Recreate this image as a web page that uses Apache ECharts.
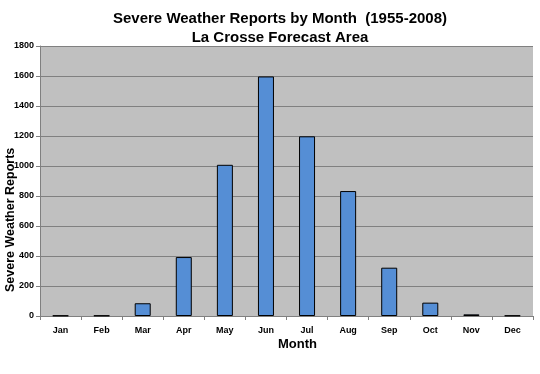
<!DOCTYPE html>
<html><head><meta charset="utf-8">
<script src="https://cdn.jsdelivr.net/npm/echarts@6/dist/echarts.min.js"></script>
<style>html,body{margin:0;padding:0;background:#fff}#c{width:540px;height:374px}</style>
</head><body><div id="c"></div>
<script>
const months = ['Jan','Feb','Mar','Apr','May','Jun','Jul','Aug','Sep','Oct','Nov','Dec'];
const reports = [3, 3, 85, 393, 1008, 1597, 1198, 833, 322, 89, 11, 3];
const titleLines = ['Severe Weather Reports by Month  (1955-2008)', 'La Crosse Forecast Area'];
const yTicks = [0, 200, 400, 600, 800, 1000, 1200, 1400, 1600, 1800];
const xName = 'Month';
const yName = 'Severe Weather Reports';

const chart = echarts.init(document.getElementById('c'), null, {renderer:'canvas'});
const font = 'Liberation Sans, Arial, sans-serif';
chart.setOption({
  animation: false,
  title: {
    text: titleLines.join('\n'),
    left: 275, top: 4, textAlign: 'center',
    textStyle: {fontFamily: font, fontSize: 15, fontWeight: 'bold', color: '#000', lineHeight: 19}
  },
  graphic: [
    {type: 'text', left: 278, top: 338, style: {text: xName, font: 'bold 13px ' + font, fill: '#000'}},
    {type: 'text', x: 4, y: 292, rotation: Math.PI / 2,
      style: {text: yName, font: 'bold 12.5px ' + font, fill: '#000', align: 'left', verticalAlign: 'top'}}
  ],
  grid: {left: 40, right: 7, top: 46, bottom: 58, show: true, backgroundColor: '#C0C0C0', borderWidth: 0,
    outerBoundsMode: 'none', containLabel: false},
  xAxis: {
    type: 'category', data: months,
    axisLine: {show: true, lineStyle: {color: '#808080', width: 1}},
    axisTick: {show: true, alignWithLabel: false, length: 4, lineStyle: {color: '#808080'}},
    axisLabel: {fontFamily: font, fontSize: 9, fontWeight: 'bold', color: '#000', margin: 10}
  },
  yAxis: {
    type: 'value', min: 0, max: 1800, interval: 200,
    axisLine: {show: true, lineStyle: {color: '#808080', width: 1}},
    axisTick: {show: true, length: 4, lineStyle: {color: '#808080'}},
    axisLabel: {fontFamily: font, fontSize: 9, fontWeight: 'bold', color: '#000', margin: 6,
      formatter: v => yTicks.includes(v) ? String(v) : ''},
    splitLine: {show: true, lineStyle: {color: '#808080', width: 1}}
  },
  series: [{
    type: 'bar', data: reports, barWidth: 16,
    itemStyle: {color: '#558ED5', borderColor: '#000', borderWidth: 1}
  }]
});
</script></body></html>
